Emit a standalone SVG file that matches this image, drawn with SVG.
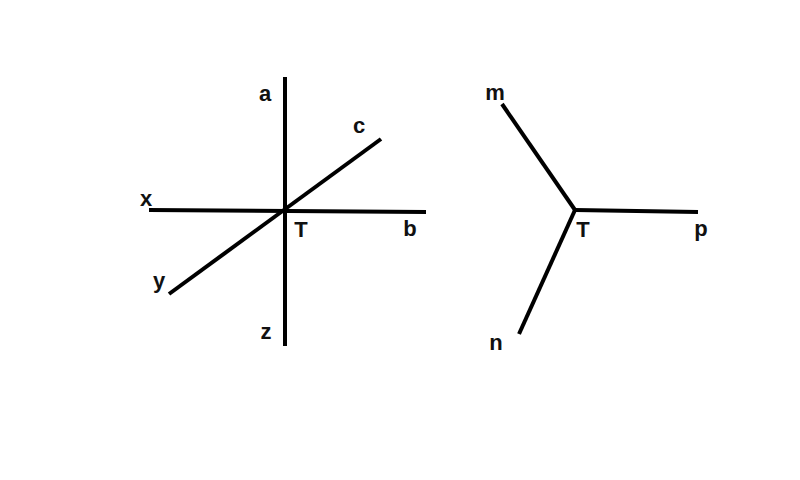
<svg xmlns="http://www.w3.org/2000/svg" width="800" height="480" viewBox="0 0 800 480">
<style>
.ln{stroke:#000;stroke-width:4;stroke-linecap:butt;fill:none}
.lb{font-family:"Liberation Sans",Arial,sans-serif;font-weight:bold;font-size:22px;fill:#111;text-anchor:middle}
</style>
<rect width="800" height="480" fill="#fff"/>
<g id="connectors">
<line class="ln" x1="285" y1="77" x2="285" y2="346"/>
<line class="ln" x1="149" y1="210" x2="426" y2="212"/>
<line class="ln" x1="169" y1="294" x2="381" y2="139"/>
<line class="ln" x1="502" y1="104" x2="575" y2="210"/>
<line class="ln" x1="575" y1="210" x2="698" y2="212"/>
<line class="ln" x1="575" y1="210" x2="519" y2="334"/>
</g>
<g id="left-labels">
<text class="lb" x="265" y="101">a</text>
<text class="lb" x="359" y="133">c</text>
<text class="lb" x="146" y="206">x</text>
<text class="lb" x="301" y="237">T</text>
<text class="lb" x="410" y="236">b</text>
<text class="lb" x="159" y="288">y</text>
<text class="lb" x="266" y="339">z</text>
</g>
<g id="right-labels">
<text class="lb" x="495" y="100">m</text>
<text class="lb" x="583" y="237">T</text>
<text class="lb" x="701" y="236">p</text>
<text class="lb" x="496" y="350">n</text>
</g>
</svg>
